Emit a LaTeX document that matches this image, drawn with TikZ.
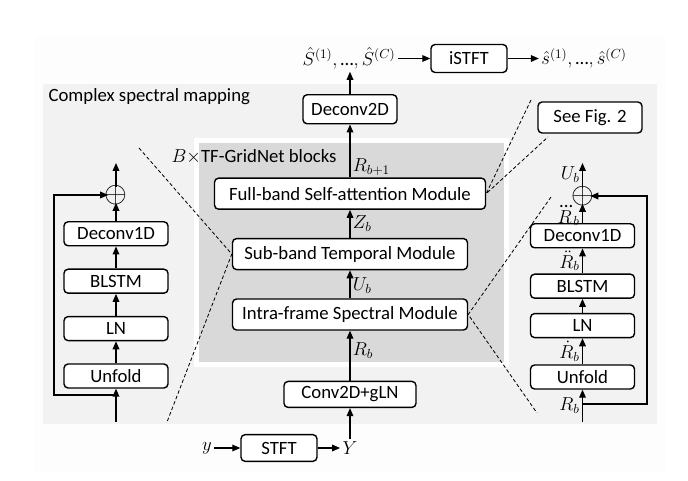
\RequirePackage{fix-cm}
\documentclass[tikz,border=0pt]{standalone}
\usepackage{amsmath, amssymb}
\usepackage{fontspec}
\setmainfont{Carlito}
\usetikzlibrary{arrows.meta, positioning}
\definecolor{GNpale}{HTML}{FDFDFD}
\definecolor{GNlight}{HTML}{F2F2F2}
\definecolor{GNmid}{HTML}{D9D9D9}
\tikzset{
  gnbox/.style={
    rectangle, rounded corners=3.5pt, draw=black, line width=1.2pt,
    fill=white, align=center, inner sep=2pt, minimum height=0.93cm,
    font=\fontsize{16}{19}\selectfont},
  gnsmall/.style={gnbox, minimum height=0.72cm, minimum width=3.12cm},
  gnarr/.style={-{Triangle[length=2.4mm,width=2mm]}, line width=1pt},
  gndash/.style={dash pattern=on 3pt off 2pt, line width=0.7pt},
  gnlbl/.style={font=\fontsize{16}{19}\selectfont, inner sep=2pt},
  gnadd/.style={circle, inner sep=-4.5pt, font=\fontsize{25}{30}\selectfont},
}

\begin{document}
\begin{tikzpicture}[x=0.03cm, y=-0.03cm]
  \useasboundingbox (0,0) rectangle (688,481);
  % panels
  \fill[GNpale] (35,37) rectangle (665,472);
  \fill[GNlight] (43,84) rectangle (657,424);
  \filldraw[fill=GNmid, draw=white, line width=0.15cm] (196.5,140.5) rectangle (506,364.5);
  \node[gnlbl, anchor=west] (title) at (46,97) {Complex spectral mapping};
  \node[gnlbl, anchor=west] (blocks) at (169,157) {$B\times$TF-GridNet blocks};

  % main column
  \node[gnbox, minimum width=7.05cm] (isp) at (350,314.5) {Intra-frame Spectral Module};
  \node[gnbox, minimum width=7.05cm, above=0.84cm of isp] (sbt) {Sub-band Temporal Module};
  \node[gnbox, minimum width=8.13cm, above=0.84cm of sbt] (fsa) {Full-band Self-attention Module};
  \node[gnbox, minimum width=2.82cm, minimum height=0.87cm, above=1.59cm of fsa] (dec2) {Deconv2D};
  \node[gnbox, minimum width=3.96cm, minimum height=0.78cm, below=1.5cm of isp] (conv) {Conv2D+gLN};
  \draw[gnarr] (conv) -- node[gnlbl, right, pos=0.6] {$R_b$} (isp);
  \draw[gnarr] (isp) -- node[gnlbl, right, pos=0.45] {$U_b$} (sbt);
  \draw[gnarr] (sbt) -- node[gnlbl, right] {$Z_b$} (fsa);
  \draw[gnarr] (fsa) -- node[gnlbl, right, pos=0.2] {$R_{b+1}$} (dec2);

  % top row
  \node[gnlbl] (shat) at (349,58.5) {$\hat{S}^{(1)},\text{…},\hat{S}^{(C)}$};
  \node[gnbox, minimum width=2.28cm, minimum height=0.84cm] (istft) at (469,58.5) {iSTFT};
  \node[gnlbl] (sout) at (584,58.5) {$\hat{s}^{(1)},\text{…},\hat{s}^{(C)}$};
  \draw[gnarr] (dec2) -- (dec2 |- shat.south);
  \draw[gnarr] (shat) -- (istft);
  \draw[gnarr] (istft) -- (sout);

  % bottom row
  \node[gnbox, minimum width=2.28cm, minimum height=0.8cm] (stft) at (279,448) {STFT};
  \node[gnlbl] (yin) at (207,448) {$y$};
  \node[gnlbl] (ybig) at (350,448) {$Y$};
  \draw[gnarr] (yin) -- (stft);
  \draw[gnarr] (stft) -- (ybig);
  \draw[gnarr] (ybig) -- (conv);

  % left: sub-band detail
  \node[gnsmall] (lufd) at (116,376) {Unfold};
  \node[gnsmall, above=0.66cm of lufd] (lln) {LN};
  \node[gnsmall, above=0.66cm of lln] (llstm) {BLSTM};
  \node[gnsmall, above=0.66cm of llstm] (ldec) {Deconv1D};
  \node[gnadd] (ladd) at (116,195) {$\oplus$};
  \coordinate (lout) at (116,163);
  \coordinate (lin) at (116,422);
  \coordinate (lsplit) at (116,395);
  \coordinate (lcorn) at (54,195);
  \draw[gnarr] (lin) -- (lufd);
  \draw[gnarr] (lufd) -- (lln);
  \draw[gnarr] (lln) -- (llstm);
  \draw[gnarr] (llstm) -- (ldec);
  \draw[gnarr] (ldec) -- (ladd);
  \draw[gnarr] (ladd) -- (lout);
  \draw[gnarr] (lsplit) -| (lcorn) -- (ladd);

  % right: intra-frame detail
  \node[gnsmall] (rufd) at (582.5,377) {Unfold};
  \node[gnsmall, above=0.78cm of rufd] (rln) {LN};
  \node[gnsmall, above=0.42cm of rln] (rlstm) {BLSTM};
  \node[gnsmall, above=0.75cm of rlstm] (rdec) {Deconv1D};
  \node[gnadd] (radd) at (582.5,196) {$\oplus$};
  \coordinate (rout) at (582.5,163);
  \coordinate (rin) at (582.5,422);
  \coordinate (rsplit) at (582.5,404);
  \coordinate (rcorn) at (647,196);
  \draw[gnarr] (rin) -- node[gnlbl, left] {$R_b$} (rufd);
  \draw[gnarr] (rufd) -- node[gnlbl, left] {$\dot{R}_b$} (rln);
  \draw[gnarr] (rln) -- (rlstm);
  \draw[gnarr] (rlstm) -- node[gnlbl, left] {$\ddot{R}_b$} (rdec);
  \draw[gnarr] (rdec) -- node[gnlbl, left, pos=0.35] {$\dddot{R}_b$} (radd);
  \draw[gnarr] (radd) -- node[gnlbl, left, pos=0.55] {$U_b$} (rout);
  \draw[gnarr] (rsplit) -| (rcorn) -- (radd);

  % zoom-in guides
  \node[gnbox, minimum width=3.12cm] (fig) at (590,117.5) {See Fig. 2};
  \coordinate (dl1) at (139,148);
  \coordinate (dl2) at (167,422);
  \coordinate (dr1) at (551,197);
  \coordinate (dr2) at (537,413);
  \coordinate (df1) at (531,100);
  \coordinate (df2) at (548,137);
  \draw[gndash] (dl1) -- (sbt.west) -- (dl2);
  \draw[gndash] (dr1) -- (isp.east) -- (dr2);
  \draw[gndash] (df1) -- (fsa.east) -- (df2);
\end{tikzpicture}
\end{document}
